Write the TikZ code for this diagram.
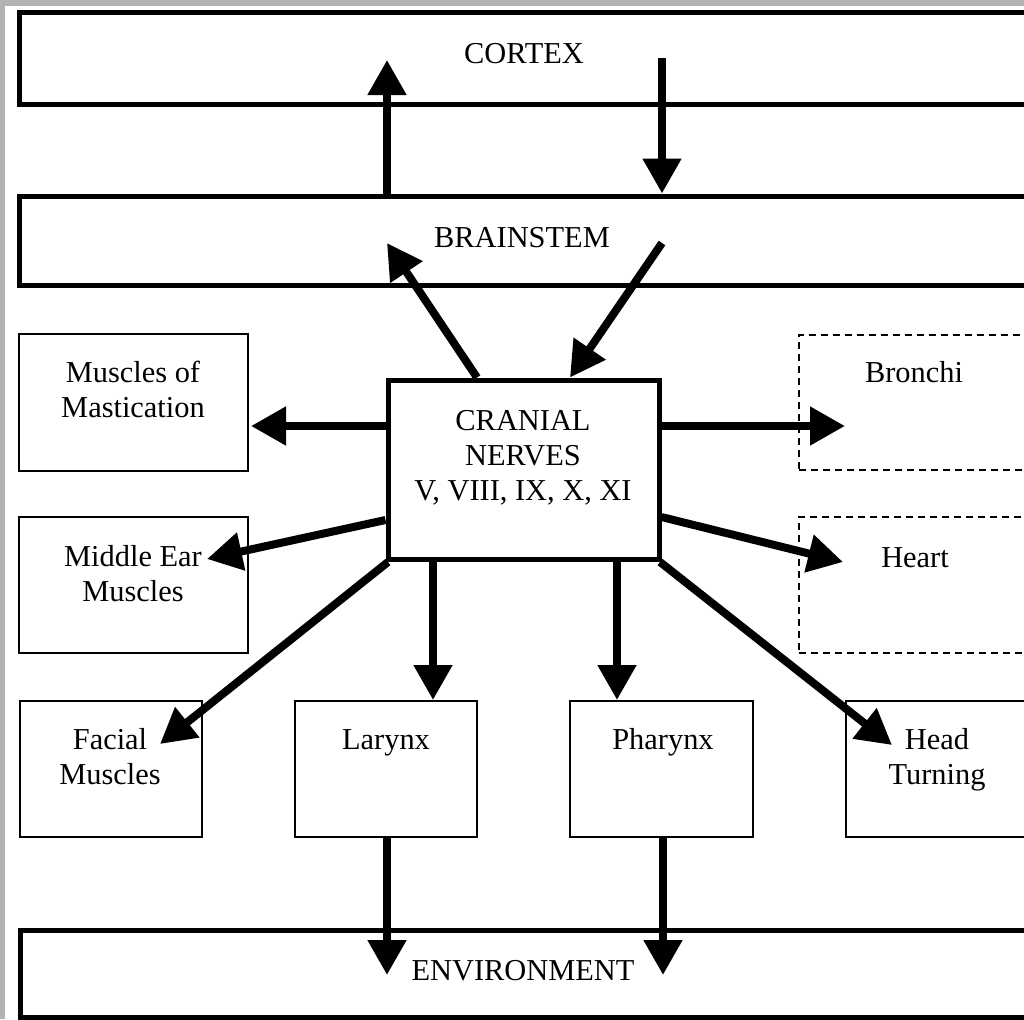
\documentclass[tikz,border=0pt]{standalone}
\usepackage{fontspec}
\setmainfont{Liberation Serif}
\usetikzlibrary{arrows.meta,fit}
\definecolor{framegray}{RGB}{178,178,178}
\begin{document}
\begin{tikzpicture}[x=0.5pt,y=-0.5pt,
  lbl/.style={font=\fontsize{15.2pt}{17.5pt}\selectfont, align=center, inner sep=0pt, anchor=base},
  band/.style={draw, line width=2.5pt, inner sep=0pt},
  hub/.style={draw, line width=2.5pt, inner sep=0pt},
  organ/.style={draw, line width=1pt, inner sep=0pt},
  autonomic/.style={draw, line width=1pt, dash pattern=on 3.5pt off 2.5pt, inner sep=0pt},
  flow/.style={line width=4pt, -{Triangle[length=17.5pt,width=18.5pt]}},
]
\useasboundingbox (0,0) rectangle (1024,1019);
\clip (0,0) rectangle (1024,1019);
% page frame
\fill[framegray] (0,0) rectangle (1024,1019);
\fill[white] (5,6) rectangle (1030,1030);

% horizontal bands
\node[band, fit={(19.5,12.5) (1034,104)}] (cortex) {};
\node[band, fit={(19.5,196) (1034,285)}] (bs) {};
\node[band, fit={(20,930) (1034,1017)}] (env) {};
\node[lbl] (tcortex) at (524,63) {CORTEX};
\node[lbl] (tbs) at (522,247) {BRAINSTEM};
\node[lbl] (tenv) at (523,980) {ENVIRONMENT};

% cranial nerve hub
\node[hub, fit={(388,380) (659,559)}] (cn) {};
\node[lbl] (tcn) at (523,500) {CRANIAL\\NERVES\\V, VIII, IX, X, XI};

% effector boxes
\node[organ, fit={(19,334) (248,471)}] (mast) {};
\node[organ, fit={(19,517) (248,653)}] (mear) {};
\node[organ, fit={(20,701) (202,837)}] (facial) {};
\node[organ, fit={(295,701) (477,837)}] (larynx) {};
\node[organ, fit={(570,701) (753,837)}] (pharynx) {};
\node[organ, fit={(846,701) (1034,837)}] (head) {};
\node[autonomic, fit={(799,335) (1034,470)}] (bronchi) {};
\node[autonomic, fit={(799,517) (1034,653)}] (heart) {};

\node[lbl] (tmast) at (133,417) {Muscles of\\Mastication};
\node[lbl] (tmear) at (133,601) {Middle Ear\\Muscles};
\node[lbl] (tfacial) at (110,784) {Facial\\Muscles};
\node[lbl] (tlarynx) at (386,749) {Larynx};
\node[lbl] (tpharynx) at (663,749) {Pharynx};
\node[lbl] (thead) at (937,784) {Head\\Turning};
\node[lbl] (tbronchi) at (914,382) {Bronchi};
\node[lbl] (theart) at (915,567) {Heart};

% free ends and guide points of connectors
\coordinate (upcortex) at (387,60);
\coordinate (fromcortex) at (662,58);
\coordinate (upbs) at (387,243);
\coordinate (frombs) at (662,243);
\coordinate (cnOutL) at (477,0);
\coordinate (cnInR) at (570,0);
\coordinate (mastTip) at (251,426);
\coordinate (mearFrom) at (0,520);
\coordinate (mearTip) at (207,559);
\coordinate (facialFrom) at (388,562);
\coordinate (facialTip) at (160,744);
\coordinate (larynxX) at (433,0);
\coordinate (pharynxX) at (617,0);
\coordinate (headFrom) at (660,562);
\coordinate (headTip) at (892,745);
\coordinate (bronchiTip) at (845,426);
\coordinate (heartFrom) at (0,517);
\coordinate (heartTip) at (843,562);
\coordinate (envL) at (387,975);
\coordinate (envR) at (663,975);

% connectors
\draw[flow] (bs.north -| upcortex) -- (upcortex);
\draw[flow] (fromcortex) -- (bs.north -| fromcortex);
\draw[flow] (cn.north -| cnOutL) -- (upbs);
\draw[flow] (frombs) -- (cn.north -| cnInR);
\draw[flow] (cn.west |- mastTip) -- (mastTip);
\draw[flow] (cn.west |- mearFrom) -- (mearTip);
\draw[flow] (facialFrom) -- (facialTip);
\draw[flow] (cn.south -| larynxX) -- (larynx.north -| larynxX);
\draw[flow] (cn.south -| pharynxX) -- (pharynx.north -| pharynxX);
\draw[flow] (headFrom) -- (headTip);
\draw[flow] (cn.east |- bronchiTip) -- (bronchiTip);
\draw[flow] (cn.east |- heartFrom) -- (heartTip);
\draw[flow] (larynx.south -| envL) -- (envL);
\draw[flow] (pharynx.south -| envR) -- (envR);
\end{tikzpicture}
\end{document}
